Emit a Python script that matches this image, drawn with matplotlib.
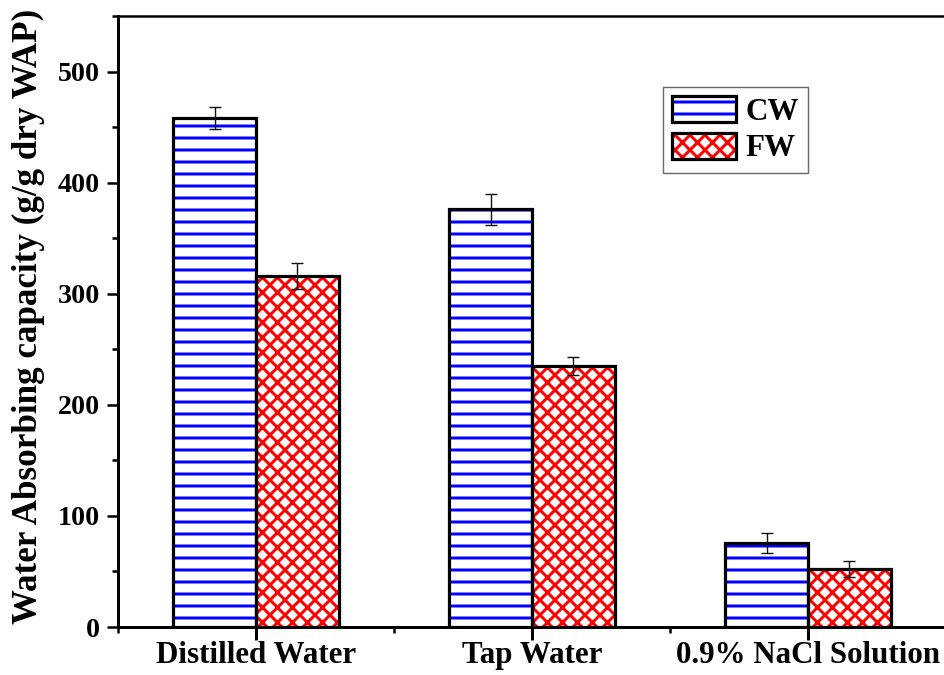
import matplotlib
matplotlib.use("Agg")
import matplotlib.pyplot as plt
from matplotlib.patches import Patch
from matplotlib.ticker import MultipleLocator, FixedLocator
from matplotlib.legend_handler import HandlerTuple
import numpy as np

categories = ["Distilled Water", "Tap Water", "0.9% NaCl Solution"]
cw_values = [458, 376, 76]
cw_errors = [10, 14, 9]
fw_values = [316, 235, 52]
fw_errors = [12, 8, 7]
series_labels = ["CW", "FW"]

# High dpi so that the hatch spacings (fixed per inch) come out fine-grained;
# sizes below are given in output pixels and converted to points with PX.
DPI = 360
PX = 72.0 / DPI

plt.rcParams["font.family"] = ["Liberation Serif", "DejaVu Serif"]
plt.rcParams["font.weight"] = "bold"
plt.rcParams["hatch.linewidth"] = 3.0 * PX

BLUE = "#0000ff"
RED = "#ff0000"
CW_HATCH = "-----"      # horizontal lines every 12 px
FW_HATCH = "x" * 8      # diagonal cross-hatch, 15 px period

fig = plt.figure(figsize=(944 / DPI, 675 / DPI), dpi=DPI)
ax = fig.add_axes([0.125, 0.0711, 0.877, 0.9052])

x = np.arange(1, len(categories) + 1)
w = 0.3

# hatched fills (hatch colour follows the edge colour), then black outlines on top
ax.bar(x - w / 2, cw_values, w, color="white", edgecolor=BLUE, hatch=CW_HATCH, linewidth=0, zorder=2)
ax.bar(x + w / 2, fw_values, w, color="white", edgecolor=RED, hatch=FW_HATCH, linewidth=0, zorder=2)
ax.bar(x - w / 2, cw_values, w, fill=False, edgecolor="black", linewidth=3.2 * PX, zorder=3)
ax.bar(x + w / 2, fw_values, w, fill=False, edgecolor="black", linewidth=3.2 * PX, zorder=3)

eb_kw = dict(fmt="none", ecolor="#111111", elinewidth=1.4 * PX, capsize=6 * PX,
             capthick=1.4 * PX, zorder=4)
ax.errorbar(x - w / 2, cw_values, yerr=cw_errors, **eb_kw)
ax.errorbar(x + w / 2, fw_values, yerr=fw_errors, **eb_kw)

ax.set_xlim(0.5, 3.5)
ax.set_ylim(0, 550)

ax.set_xticks(x)
ax.set_xticklabels(categories, fontsize=31 * PX, fontweight="bold")
ax.xaxis.set_minor_locator(FixedLocator([0.5, 1.5, 2.5, 3.5]))
ax.yaxis.set_major_locator(MultipleLocator(100))
ax.yaxis.set_minor_locator(MultipleLocator(50))
for lbl in ax.get_yticklabels():
    lbl.set_fontsize(28 * PX)
    lbl.set_fontweight("bold")

ax.tick_params(axis="y", which="major", direction="out", length=11 * PX, width=2.5 * PX, pad=7 * PX)
ax.tick_params(axis="x", which="major", direction="out", length=13 * PX, width=3 * PX, pad=0.5 * PX)
ax.tick_params(axis="both", which="minor", direction="out", length=6 * PX, width=2.5 * PX)

ax.set_ylabel("Water Absorbing capacity (g/g dry WAP)", fontsize=35 * PX, fontweight="bold")
ax.yaxis.set_label_coords(-0.088, 0.508)

for side in ["left", "bottom"]:
    ax.spines[side].set_linewidth(3 * PX)
ax.spines["top"].set_linewidth(2.5 * PX)
ax.spines["right"].set_linewidth(2.5 * PX)

# legend swatches: coloured hatching with a black outline drawn over it
cw_fill = Patch(facecolor="white", edgecolor=BLUE, linewidth=0, hatch=CW_HATCH)
fw_fill = Patch(facecolor="white", edgecolor=RED, linewidth=0, hatch=FW_HATCH)
cw_edge = Patch(fill=False, edgecolor="black", linewidth=3.2 * PX)
fw_edge = Patch(fill=False, edgecolor="black", linewidth=3.2 * PX)
leg = ax.legend([(cw_fill, cw_edge), (fw_fill, fw_edge)], series_labels,
                handler_map={tuple: HandlerTuple(ndivide=1, pad=0)},
                loc="upper left", bbox_to_anchor=(0.658, 0.884), borderaxespad=0,
                prop={"size": 31 * PX, "weight": "bold"}, frameon=True, fancybox=False,
                edgecolor="#444444", handlelength=2.06, handleheight=0.9,
                handletextpad=0.3, borderpad=0.3, labelspacing=0.2)
leg.get_frame().set_linewidth(1.4 * PX)

fig.savefig("out.png", dpi=DPI)
